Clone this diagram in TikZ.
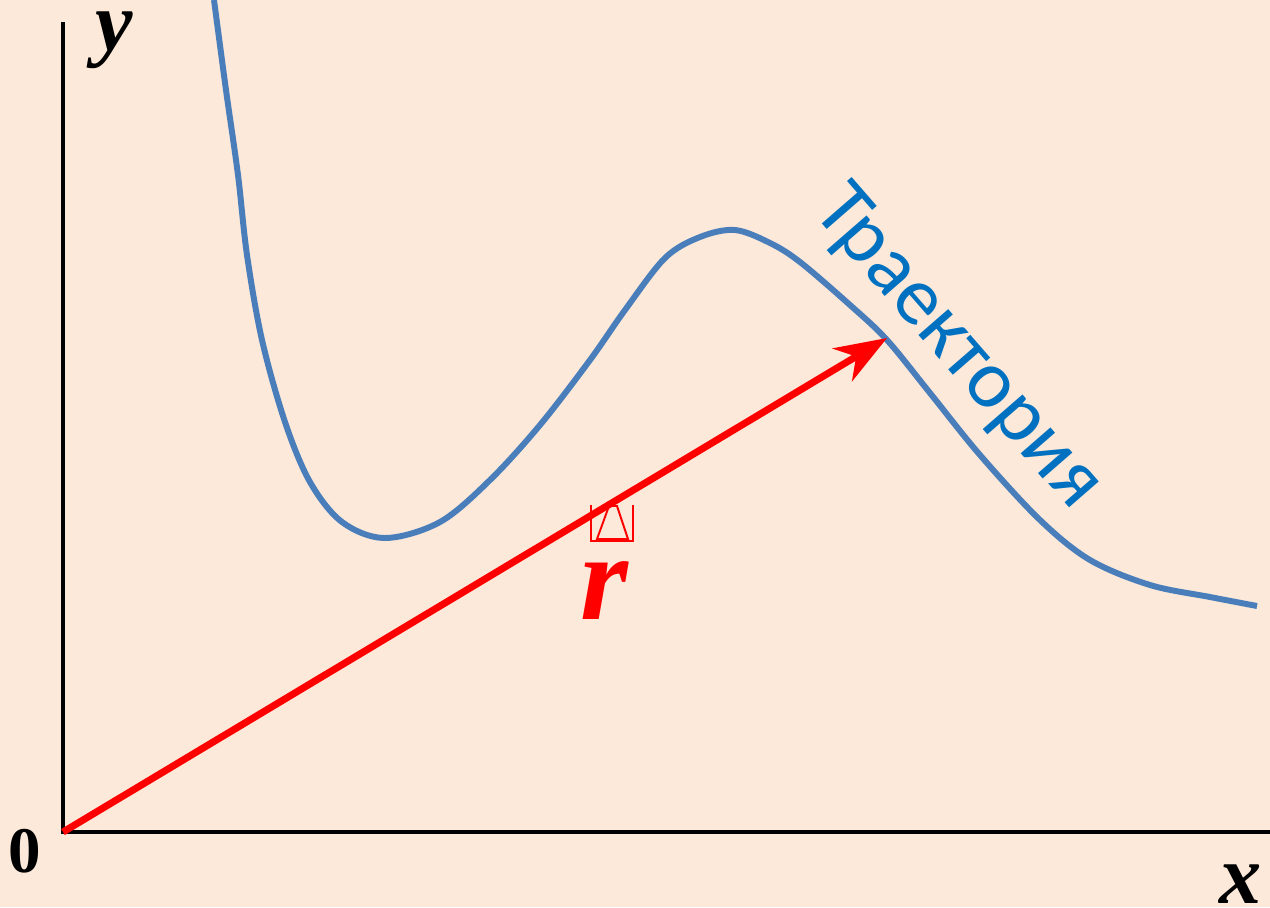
\documentclass[tikz,border=0pt]{standalone}
\usepackage{fontspec}
\setmainfont{Liberation Serif}
\newfontfamily\trajfont{Carlito}
\usetikzlibrary{arrows.meta}
\definecolor{paper}{RGB}{252,233,217}
\definecolor{trajblue}{RGB}{74,126,187}
\definecolor{trajtext}{RGB}{0,112,192}
\definecolor{rvec}{RGB}{255,0,0}
\begin{document}
\begin{tikzpicture}[x=0.02cm, y=-0.02cm,
  axis/.style={line width=2.3pt, black},
  path curve/.style={line width=3.4pt, trajblue},
  radius/.style={-{Stealth[length=1.04cm, width=0.76cm, inset=0.32cm]}, line width=4pt, rvec},
  axlabel/.style={inner sep=0pt, font=\fontsize{48}{48}\selectfont\bfseries\itshape}
]
  % Background
  \path[fill=paper, use as bounding box] (0,0) rectangle (1270,907);

  % Axes
  \coordinate (origin) at (63,832);
  \coordinate (ytop) at (63,22);
  \coordinate (xend) at (1270,832);
  \draw[axis] (ytop) -- (origin) -- (xend);
  \node[axlabel] (ylab) at (114,40) {y};
  \node[axlabel] (xlab) at (1241,884) {x};
  \node[inner sep=0pt, font=\fontsize{37}{37}\selectfont\bfseries] (zero) at (25,851) {0};

  % Trajectory
  \draw[path curve] plot[smooth, tension=0.55] coordinates {
    (214,0) (226,90) (238,175) (247,255) (262,340) (285,422) (310,482)
    (342,522) (385,538) (440,522) (490,480) (540,425) (590,360) (625,310)
    (665,258) (700,237) (735,230) (770,243) (800,262) (850,305) (887,340)
    (930,393) (980,455) (1040,520) (1090,560) (1150,585) (1210,597) (1257,606)};
  \node[rotate=-49, text=trajtext, font=\trajfont\fontsize{47}{47}\selectfont] (traj) at (957,349) {Траектория};

  % Radius vector
  \coordinate (point) at (887,338);
  \draw[radius] (origin) -- (point);
  \draw[rvec, line width=1.1pt] (591,505) -- (591,541) -- (633,541) -- (633,505);
  \draw[rvec, line width=1.1pt] (597,539) -- (609,506) -- (617,506) -- (628,539) -- cycle;
  \node[inner sep=0pt, text=rvec, font=\fontsize{70}{70}\selectfont\bfseries\itshape] (rlab) at (604,591) {r};
\end{tikzpicture}
\end{document}
